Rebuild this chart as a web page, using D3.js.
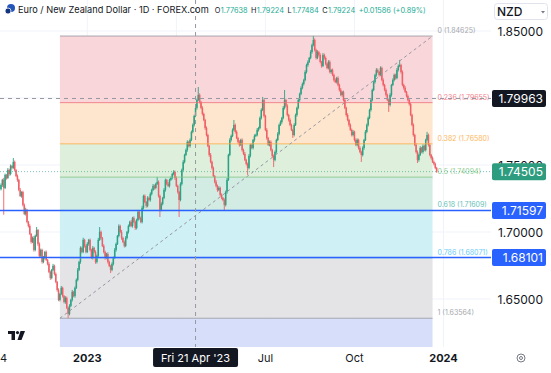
<!DOCTYPE html>
<html>
<head>
<meta charset="utf-8">
<script src="https://cdn.jsdelivr.net/npm/d3@7"></script>
<style>
  body { margin: 0; background: #fff; }
  svg { display: block; font-family: Inter, "Noto Sans", sans-serif; }
</style>
</head>
<body>
<div class="chart"></div>
<script>
// daily closes, EUR/NZD, Oct 2022 -> Dec 2023
const closes = [
  1.7351,1.7389,1.7329,1.7426,1.7403,1.7463,1.7433,1.7493,1.7478,1.7523,
  1.7463,1.7418,1.7389,1.7314,1.7269,1.7299,1.7202,1.7135,1.7165,1.7075,
  1.7045,1.6986,1.6926,1.6956,1.6866,1.6971,1.7015,1.6911,1.6822,1.6866,
  1.6777,1.6807,1.6851,1.6792,1.6762,1.6702,1.6657,1.6717,1.6747,1.6687,
  1.6628,1.6568,1.6493,1.6538,1.6583,1.6523,1.6478,1.6508,1.6434,1.6389,
  1.6449,1.6493,1.6553,1.6523,1.6583,1.6643,1.6717,1.6777,1.6881,1.6851,
  1.6941,1.6896,1.6851,1.6911,1.6941,1.6866,1.6807,1.6881,1.6851,1.6777,
  1.6822,1.6941,1.7001,1.6956,1.6896,1.6851,1.6807,1.6836,1.6777,1.6747,
  1.6717,1.6762,1.6807,1.6866,1.6911,1.6971,1.7045,1.7001,1.6956,1.6926,
  1.6896,1.6956,1.7001,1.7045,1.7075,1.7045,1.7105,1.7075,1.7030,1.7090,
  1.7150,1.7105,1.7075,1.7180,1.7269,1.7224,1.7195,1.7254,1.7239,1.7284,
  1.7314,1.7344,1.7329,1.7359,1.7374,1.7269,1.7165,1.7210,1.7254,1.7314,
  1.7389,1.7359,1.7344,1.7389,1.7403,1.7433,1.7448,1.7403,1.7344,1.7299,
  1.7239,1.7359,1.7463,1.7523,1.7575,1.7612,1.7672,1.7642,1.7687,1.7747,
  1.7799,1.7866,1.7926,1.7985,1.8023,1.7970,1.7926,1.7881,1.7836,1.7776,
  1.7724,1.7642,1.7575,1.7523,1.7478,1.7418,1.7374,1.7344,1.7314,1.7329,
  1.7277,1.7254,1.7239,1.7202,1.7299,1.7389,1.7575,1.7687,1.7717,1.7762,
  1.7799,1.7747,1.7702,1.7672,1.7650,1.7687,1.7612,1.7583,1.7538,1.7508,
  1.7478,1.7568,1.7650,1.7627,1.7687,1.7717,1.7724,1.7762,1.7776,1.7851,
  1.7911,1.7985,1.7866,1.7762,1.7702,1.7650,1.7672,1.7612,1.7568,1.7538,
  1.7597,1.7687,1.7732,1.7799,1.7821,1.7851,1.7926,1.7985,1.7941,1.7873,
  1.7836,1.7799,1.7762,1.7724,1.7799,1.7873,1.7926,1.7985,1.8030,1.8075,
  1.8105,1.8134,1.8194,1.8246,1.8269,1.8299,1.8343,1.8395,1.8433,1.8358,
  1.8299,1.8343,1.8321,1.8269,1.8239,1.8321,1.8299,1.8254,1.8224,1.8269,
  1.8194,1.8209,1.8172,1.8134,1.8119,1.8149,1.8097,1.8060,1.8023,1.8045,
  1.7985,1.7926,1.7873,1.7836,1.7799,1.7762,1.7724,1.7747,1.7687,1.7650,
  1.7687,1.7627,1.7597,1.7575,1.7627,1.7687,1.7747,1.7799,1.7851,1.7911,
  1.7985,1.8060,1.8119,1.8172,1.8209,1.8194,1.8172,1.8224,1.8134,1.8097,
  1.8060,1.8023,1.7985,1.7948,1.8023,1.8097,1.8134,1.8172,1.8149,1.8209,
  1.8239,1.8246,1.8194,1.8097,1.8075,1.8045,1.8015,1.7985,1.7955,1.7873,
  1.7799,1.7724,1.7650,1.7597,1.7538,1.7575,1.7627,1.7597,1.7642,1.7612,
  1.7687,1.7724,1.7650,1.7575,1.7553,1.7523,1.7508,1.7478,1.74505
];
const firstOpen = 1.7320;
// wick lengths above / below the body, in pips
const upperWick = [
  12,8,15,10,6,14,9,11,7,29, 10,6,12,8,14,5,9,11,16,7, 8,13,6,10,15,9,22,7,12,10,
  9,14,8,11,6,13,10,7,15,9, 11,6,12,8,14,9,7,13,10,8, 12,9,15,7,11,10,14,8,12,9,
  16,8,11,13,7,10,9,14,8,12, 10,15,36,9,7,12,10,8,13,9, 8,11,9,14,10,7,12,9,15,8,
  10,13,7,11,9,14,8,12,10,9, 12,8,10,15,9,11,7,13,10,12, 9,14,10,8,37,11,9,12,8,13,
  10,7,14,9,11,8,13,10,12,9, 8,12,10,14,9,11,13,8,12,10, 11,9,14,10,59,12,8,13,10,9,
  12,10,8,14,9,11,7,13,10,12, 9,11,8,12,10,14,9,13,10,11, 37,10,12,8,13,9,11,10,14,8,
  10,13,9,11,8,12,10,14,9,11, 12,23,10,9,13,8,11,12,9,10, 11,9,13,10,12,8,14,75,10,12,
  9,12,10,8,13,11,9,14,10,12, 11,9,13,10,12,8,14,10,30,12, 10,13,9,12,8,14,10,11,9,13,
  12,8,11,10,13,9,12,10,14,8, 10,12,9,13,8,11,10,14,9,12, 11,9,13,10,12,8,14,10,11,9,
  13,10,12,9,14,11,8,12,10,13, 9,12,10,11,13,8,12,10,9,14, 11,38,9,12,10,13,8,11,10,12,
  10,12,9,14,11,10,13,8,12,10, 9,23,10,12,8,11,10,9,8
];
const lowerWick = [
  10,14,200,9,12,8,13,10,11,7, 12,9,14,10,8,13,11,9,12,10, 11,8,13,9,12,10,7,14,11,9,
  13,10,12,8,11,9,14,10,8,12, 10,13,9,11,8,12,10,14,9,33, 11,9,12,10,13,8,11,9,14,10,
  9,12,10,8,13,11,9,12,10,14, 12,10,8,13,9,11,14,10,12,9, 23,10,12,9,13,8,11,10,14,9,
  12,9,11,13,8,10,12,9,14,11, 10,13,9,11,12,8,14,10,9,12, 11,9,13,10,8,12,53,10,11,9,
  13,10,9,12,8,11,10,14,9,12, 127,10,12,9,11,8,13,10,12,9, 10,12,9,13,8,11,10,12,9,14,
  11,9,13,10,12,8,11,10,14,9, 12,10,9,40,11,13,8,10,12,9, 10,12,9,11,13,8,12,10,9,11,
  52,10,12,9,11,13,8,10,12,9, 11,9,12,10,13,8,11,10,12,53, 10,12,9,11,8,13,10,12,9,11,
  12,10,9,22,11,8,12,10,13,9, 10,12,9,11,13,8,10,12,9,11, 12,9,11,10,13,8,12,10,9,11,
  10,13,9,12,8,11,10,12,9,13, 11,9,12,10,13,8,11,10,12,9, 10,12,9,52,11,13,8,10,12,9,
  12,10,9,11,13,8,12,10,9,11, 10,12,9,52,11,13,8,10,12,9, 11,9,12,10,13,8,11,10,12,9,
  10,12,9,11,23,13,8,10,12,9, 11,9,12,10,13,8,11,10,9
];

const priceTicks = [1.85, 1.80, 1.75, 1.70, 1.65];
const gridIdx = [63, 128, 193, 258, 323];
const timeTickIdx = [63, 193, 258, 323];
const timeTickLabels = ["2023", "Jul", "Oct", "2024"];
const timeTickBold = [true, false, false, true];

const fibHigh = 1.84625, fibLow = 1.63564;
const fibRatios = [0, 0.236, 0.382, 0.5, 0.618, 0.786, 1, 1.618];
const fibStartIdx = 43, fibEndIdx = 315;

const hLines = [1.71597, 1.68101];
const lastPrice = 1.74505;
const crossPrice = 1.79963, crossIdx = 142, crossDate = "Fri 21 Apr '23";

const ohlcKeys = ["O", "H", "L", "C", ""];
const ohlcValues = ["1.77638", "1.79224", "1.77484", "1.79224", "+0.01586 (+0.89%)"];

const W = 551, H = 373;
const plotRight = 491, plotBottom = 347;

const svg = d3.select(".chart").append("svg")
  .attr("width", W).attr("height", H)
  .attr("viewBox", [0, 0, W, H]);

const x = d3.scaleLinear().domain([0, 100]).range([1, 138]);
const y = d3.scaleLinear().domain([1.65, 1.85]).range([299, 31]);

svg.append("defs").append("clipPath").attr("id", "plot")
  .append("rect").attr("x", 0).attr("y", 0).attr("width", plotRight).attr("height", plotBottom);

const plot = svg.append("g").attr("clip-path", "url(#plot)");

// grid
plot.selectAll(".hgrid").data(priceTicks).join("line")
  .attr("x1", 0).attr("x2", plotRight)
  .attr("y1", d => y(d)).attr("y2", d => y(d))
  .attr("stroke", "#f0f3fa");
plot.selectAll(".vgrid").data(gridIdx).join("line")
  .attr("x1", d => x(d)).attr("x2", d => x(d))
  .attr("y1", 0).attr("y2", plotBottom)
  .attr("stroke", "#f0f3fa");

// fib retracement
const fibPrice = r => fibHigh - r * (fibHigh - fibLow);
const bandColors = ["#f9d6d9", "#fde6cd", "#deefdc", "#d2ebe3", "#cff0f5", "#e4e4e7", "#d7def9"];
const lineColors = ["#9598a1", "#f26d78", "#ffab40", "#81c784", "#4db6ac", "#4fc3f7", "#9598a1", "#2962ff"];
const fx0 = x(fibStartIdx), fx1 = x(fibEndIdx);

const bands = fibRatios.slice(0, -1).map((r, k) => [r, fibRatios[k + 1], bandColors[k]]);
plot.selectAll(".band").data(bands).join("rect")
  .attr("x", fx0).attr("width", fx1 - fx0)
  .attr("y", d => y(fibPrice(d[0])))
  .attr("height", d => y(fibPrice(d[1])) - y(fibPrice(d[0])))
  .attr("fill", d => d[2]);

// candles
const candles = closes.map((c, i) => {
  const o = i === 0 ? firstOpen : closes[i - 1];
  return {
    i, o, c,
    h: Math.max(o, c) + upperWick[i] / 10000,
    l: Math.min(o, c) - lowerWick[i] / 10000
  };
});
const upCol = "#2aa283", downCol = "#ef5f66";
const cg = plot.append("g");
cg.selectAll("line").data(candles).join("line")
  .attr("x1", d => x(d.i)).attr("x2", d => x(d.i))
  .attr("y1", d => y(d.h)).attr("y2", d => y(d.l))
  .attr("stroke", d => d.c >= d.o ? upCol : downCol)
  .attr("stroke-width", 0.9);
cg.selectAll("rect").data(candles).join("rect")
  .attr("x", d => x(d.i) - 0.75).attr("width", 1.5)
  .attr("y", d => y(Math.max(d.o, d.c)))
  .attr("height", d => Math.max(0.8, Math.abs(y(d.o) - y(d.c))))
  .attr("fill", d => d.c >= d.o ? upCol : downCol);

// fib level lines, trend line, labels
plot.selectAll(".fibline").data(fibRatios.slice(0, -1)).join("line")
  .attr("x1", fx0).attr("x2", fx1)
  .attr("y1", d => y(fibPrice(d))).attr("y2", d => y(fibPrice(d)))
  .attr("stroke", (d, k) => lineColors[k])
  .attr("stroke-width", 1).attr("opacity", 0.8);
plot.append("line")
  .attr("x1", fx0).attr("y1", y(fibLow)).attr("x2", fx1).attr("y2", y(fibHigh))
  .attr("stroke", "#9598a1").attr("stroke-width", 1).attr("stroke-dasharray", "3,3");
plot.selectAll(".fiblabel").data(fibRatios.slice(0, -1)).join("text")
  .attr("x", fx1 + 5).attr("y", d => y(fibPrice(d)) - 3)
  .attr("font-size", 7).attr("fill", (d, k) => lineColors[k]).attr("opacity", 0.85)
  .text(d => `${d} (${fibPrice(d).toFixed(5)})`);

// horizontal lines
plot.selectAll(".hline").data(hLines).join("line")
  .attr("x1", 0).attr("x2", plotRight)
  .attr("y1", d => y(d)).attr("y2", d => y(d))
  .attr("stroke", "#2962ff").attr("stroke-width", 1.5);

// last price line
plot.append("line")
  .attr("x1", 0).attr("x2", plotRight)
  .attr("y1", y(lastPrice)).attr("y2", y(lastPrice))
  .attr("stroke", upCol).attr("stroke-dasharray", "1,2").attr("opacity", 0.6);

// crosshair
plot.append("line")
  .attr("x1", 0).attr("x2", plotRight)
  .attr("y1", y(crossPrice)).attr("y2", y(crossPrice))
  .attr("stroke", "#9598a1").attr("stroke-dasharray", "4,4");
plot.append("line")
  .attr("x1", x(crossIdx)).attr("x2", x(crossIdx))
  .attr("y1", 0).attr("y2", plotBottom)
  .attr("stroke", "#9598a1").attr("stroke-dasharray", "4,4");

// price scale
svg.selectAll(".plabel").data(priceTicks).join("text")
  .attr("x", 543).attr("y", d => y(d) + 4.5)
  .attr("text-anchor", "end").attr("font-size", 12).attr("fill", "#131722")
  .text(d => d.toFixed(5));

const boxes = [
  [crossPrice, "#131722"],
  [lastPrice, "#2e9c7e"],
  [hLines[0], "#2962ff"],
  [hLines[1], "#2962ff"]
];
const bg = svg.selectAll(".pbox").data(boxes).join("g");
bg.append("rect")
  .attr("x", 492).attr("width", 54)
  .attr("y", d => y(d[0]) - 8.5).attr("height", 17).attr("rx", 2)
  .attr("fill", d => d[1]);
bg.append("text")
  .attr("x", 543).attr("y", d => y(d[0]) + 4.5)
  .attr("text-anchor", "end").attr("font-size", 12).attr("fill", "#fff")
  .text(d => d[0].toFixed(5));

// time axis
svg.selectAll(".tlabel").data(timeTickIdx).join("text")
  .attr("x", d => x(d)).attr("y", 362)
  .attr("text-anchor", "middle").attr("font-size", 11)
  .attr("font-weight", (d, k) => timeTickBold[k] ? 700 : 400)
  .attr("fill", "#131722")
  .text((d, k) => timeTickLabels[k]);
svg.append("text").attr("x", 0).attr("y", 362).attr("font-size", 11)
  .attr("fill", "#131722").text("4");

const dateBox = svg.append("g");
dateBox.append("rect")
  .attr("x", x(crossIdx) - 42.5).attr("y", 348).attr("width", 85).attr("height", 19)
  .attr("rx", 2).attr("fill", "#131722");
dateBox.append("text")
  .attr("x", x(crossIdx)).attr("y", 361.5).attr("text-anchor", "middle")
  .attr("font-size", 11).attr("fill", "#fff").text(crossDate);

// settings icon
svg.append("circle").attr("cx", 521).attr("cy", 358).attr("r", 4)
  .attr("fill", "none").attr("stroke", "#787b86").attr("stroke-width", 1);
svg.append("circle").attr("cx", 521).attr("cy", 358).attr("r", 1.5)
  .attr("fill", "none").attr("stroke", "#787b86").attr("stroke-width", 1);

// TV logo
const logo = svg.append("g").attr("fill", "#131722");
logo.append("rect").attr("x", 8).attr("y", 331).attr("width", 7).attr("height", 3);
logo.append("rect").attr("x", 11.5).attr("y", 331).attr("width", 3.5).attr("height", 9);
logo.append("circle").attr("cx", 17.5).attr("cy", 332.6).attr("r", 1.6);
logo.append("path").attr("d", "M20.5,331 L25,331 L21.5,340 L17.5,340 Z");

// header
const icon = svg.append("g");
icon.append("circle").attr("cx", 11).attr("cy", 8).attr("r", 4).attr("fill", "#2455b8");
icon.append("circle").attr("cx", 8).attr("cy", 11).attr("r", 3).attr("fill", "#12357e")
  .attr("stroke", "#fff").attr("stroke-width", 0.8);

const title = svg.append("text").attr("x", 18).attr("y", 13)
  .attr("font-size", 9.2).attr("fill", "#131722")
  .text("Euro / New Zealand Dollar · 1D · FOREX.com");

// O H L C readout, one text per key/value, placed after the title
let ox = 18 + title.node().getComputedTextLength() + 6;
ohlcKeys.forEach((k, n) => {
  if (k) {
    const kt = svg.append("text").attr("x", ox).attr("y", 12.5)
      .attr("font-size", 7.3).attr("fill", "#131722").text(k);
    ox += kt.node().getComputedTextLength() + 0.4;
  }
  const vt = svg.append("text").attr("x", ox).attr("y", 12.5)
    .attr("font-size", 7.3).attr("fill", "#22ab94").text(ohlcValues[n]);
  ox += vt.node().getComputedTextLength() + 3.5;
});

svg.append("rect").attr("x", 494.5).attr("y", 3.5).attr("width", 53).attr("height", 16)
  .attr("rx", 3).attr("fill", "#fff").attr("stroke", "#e0e3eb");
svg.append("text").attr("x", 497).attr("y", 16).attr("font-size", 12)
  .attr("font-weight", 500).attr("fill", "#131722").text("NZD");
svg.append("path").attr("d", "M541,11 L545,11 L543,13.5 Z").attr("fill", "#787b86");
</script>
</body>
</html>
